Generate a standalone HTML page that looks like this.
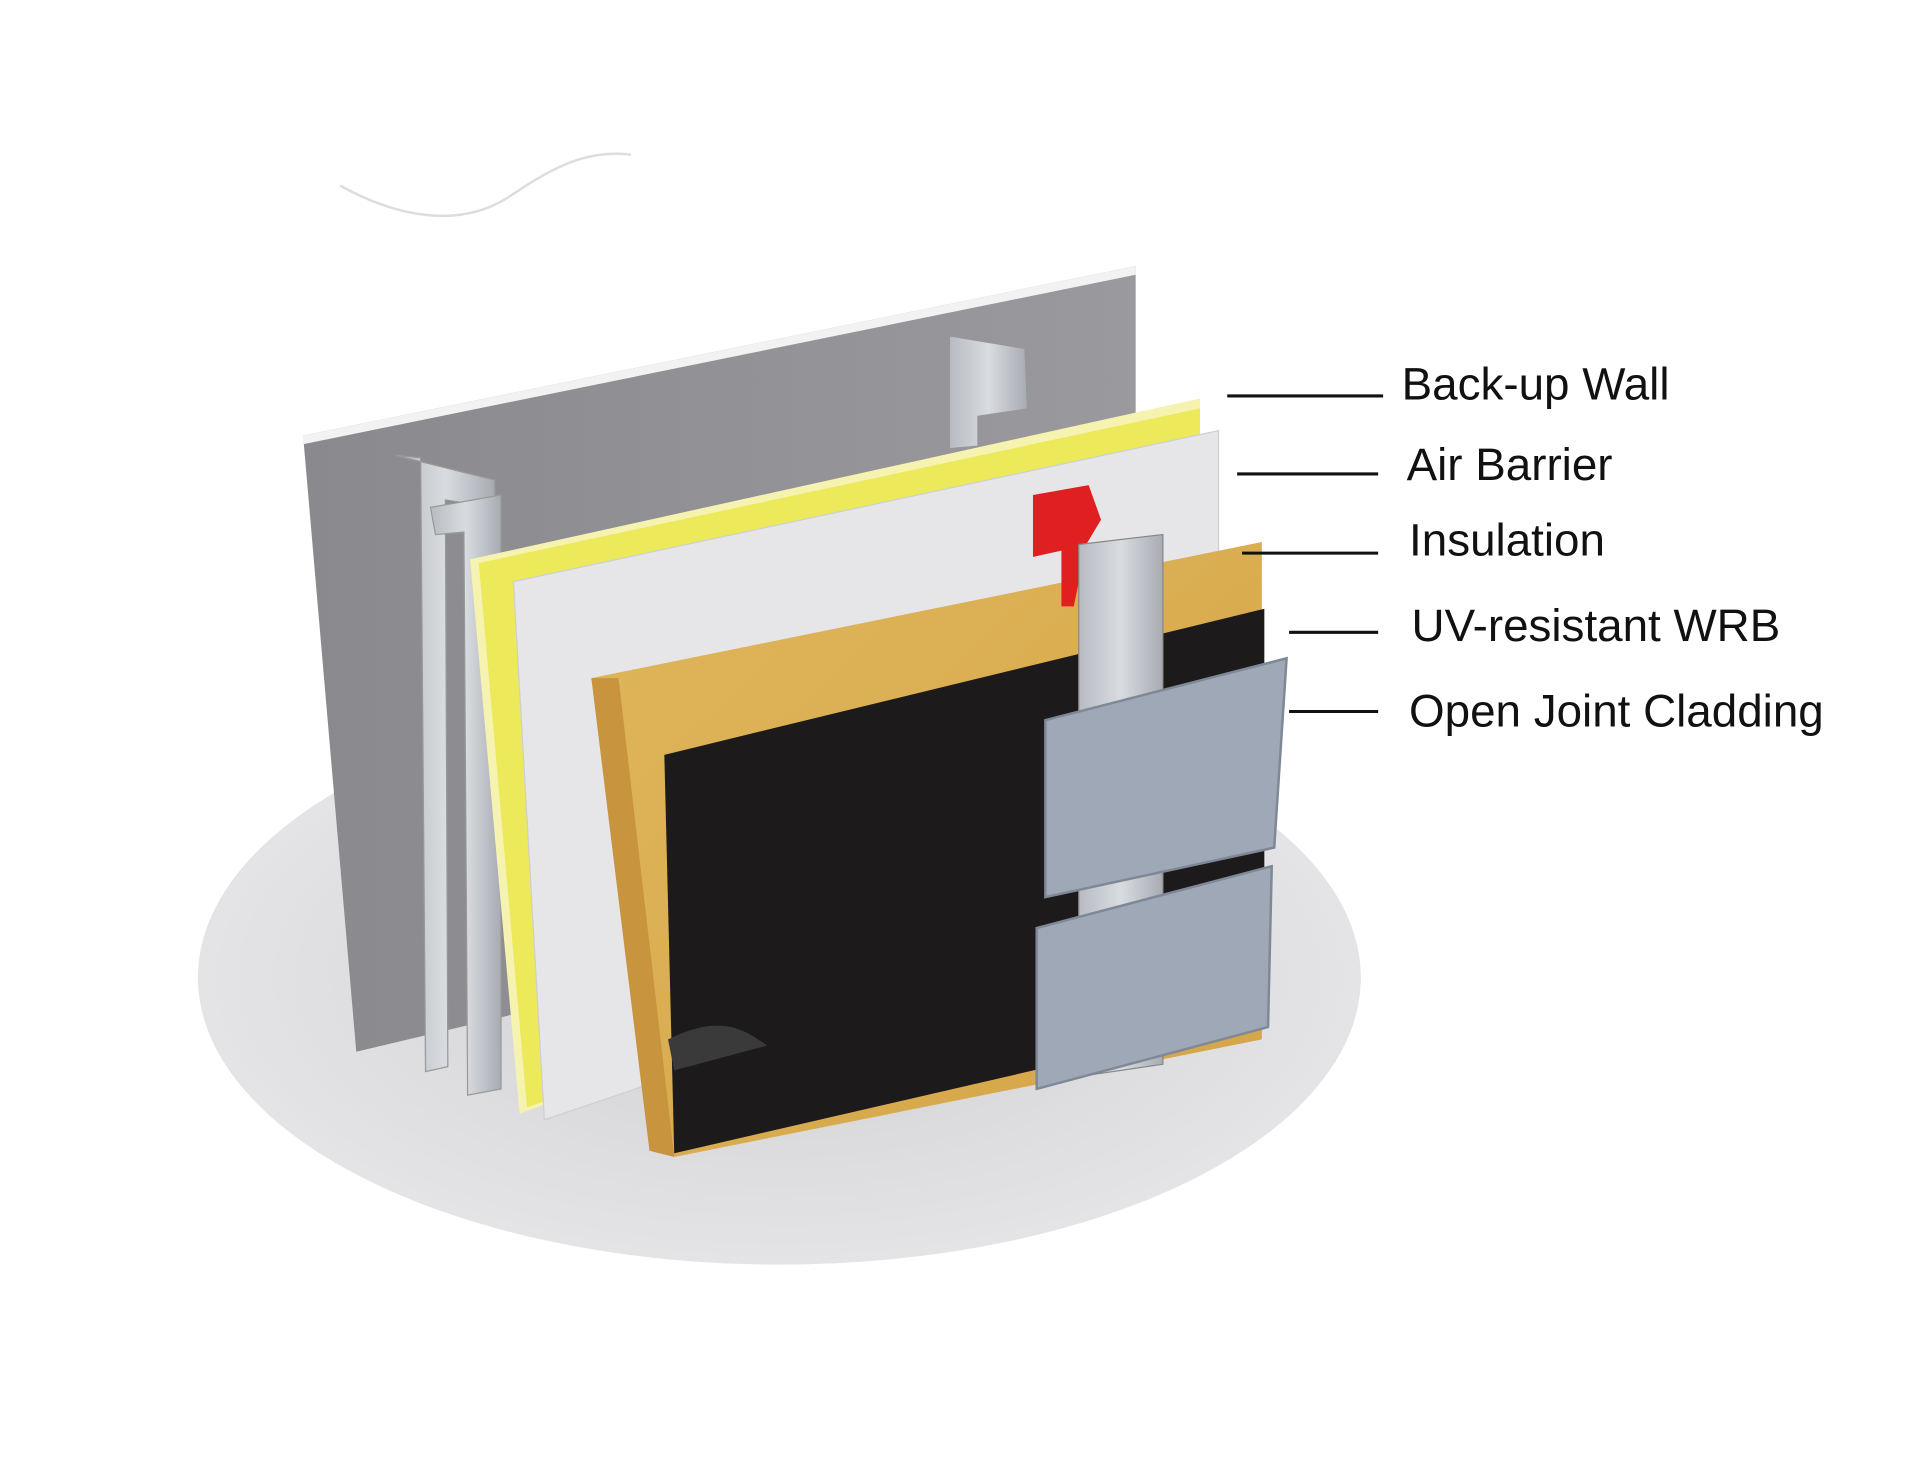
<!DOCTYPE html>
<html><head><meta charset="utf-8"><style>
html,body{margin:0;padding:0;background:#fff;}
svg{display:block;}
text{font-family:"Liberation Sans",sans-serif;font-size:37px;fill:#111;}
</style></head><body>
<svg width="1920" height="1475" viewBox="0 0 1552 1192" preserveAspectRatio="none" xmlns="http://www.w3.org/2000/svg">
<defs>
<radialGradient id="fl" cx="0.5" cy="0.5" r="0.5"><stop offset="0" stop-color="#d0d0d2"/><stop offset="1" stop-color="#e4e4e6"/></radialGradient>
<linearGradient id="wall" x1="0" y1="0" x2="1" y2="0"><stop offset="0" stop-color="#8a8a8e"/><stop offset="1" stop-color="#9a9a9e"/></linearGradient>
<linearGradient id="met" x1="0" y1="0" x2="1" y2="0"><stop offset="0" stop-color="#b8bcc2"/><stop offset="0.5" stop-color="#d8dce0"/><stop offset="1" stop-color="#a8acb2"/></linearGradient>
<linearGradient id="ins" x1="0" y1="0" x2="1" y2="1"><stop offset="0" stop-color="#e0b65a"/><stop offset="1" stop-color="#d4a448"/></linearGradient>
</defs>
<rect width="1552" height="1192" fill="#fff"/>
<path d="M275,150 C320,175 370,185 410,160 C440,140 470,120 510,125" fill="none" stroke="#ddd" stroke-width="2"/>
<ellipse cx="630" cy="790" rx="470" ry="232" fill="url(#fl)"/>
<!-- back-up wall -->
<polygon points="245,352 918,215 918,700 288,850" fill="url(#wall)"/>
<polygon points="245,352 918,215 918,222 245,359" fill="#f2f2f2"/>
<!-- back stud -->
<polygon points="768,272 828,282 830,330 790,336 790,360 768,362" fill="url(#met)"/>
<!-- left studs -->
<polygon points="320,368 400,388 400,410 360,404 362,862 344,866 340,370" fill="url(#met)" stroke="#999" stroke-width="1"/>
<polygon points="348,410 405,400 405,880 378,885 375,430 352,432" fill="url(#met)" stroke="#999" stroke-width="1"/>
<!-- yellow layer -->
<polygon points="380,452 970,322 970,700 420,900" fill="#f6f2b0"/>
<polygon points="387,455 970,330 970,700 426,895" fill="#ecea5a"/>
<!-- air barrier -->
<polygon points="415,470 985,348 985,720 440,905" fill="#e6e6e8" stroke="#cfcfd2" stroke-width="1"/>
<!-- insulation -->
<polygon points="478,548 1020,438 1020,840 545,935" fill="url(#ins)"/>
<polygon points="478,548 500,548 545,935 525,930" fill="#c8943e"/>
<!-- WRB -->
<polygon points="537,610 1022,492 1022,822 545,932" fill="#1c1a1a"/>
<path d="M540,840 C580,820 600,830 620,845 L545,865 Z" fill="#3a3a3a"/>
<!-- red clip -->
<polygon points="835,400 880,392 890,420 878,440 868,490 858,490 858,445 835,450" fill="#e02020"/>
<!-- rail -->
<polygon points="872,440 940,432 940,860 872,870" fill="url(#met)" stroke="#888" stroke-width="1"/>
<!-- cladding -->
<polygon points="845,582 1040,532 1030,685 845,725" fill="#9ea8b6" stroke="#7f8896" stroke-width="2"/>
<polygon points="838,750 1028,700 1025,830 838,880" fill="#9ea8b6" stroke="#7f8896" stroke-width="2"/>
<!-- leaders -->
<g stroke="#111" stroke-width="2.5">
<line x1="992" y1="320" x2="1118" y2="320"/>
<line x1="1000" y1="383" x2="1114" y2="383"/>
<line x1="1004" y1="447" x2="1114" y2="447"/>
<line x1="1042" y1="511" x2="1114" y2="511"/>
<line x1="1042" y1="575" x2="1114" y2="575"/>
</g>
<text x="1133" y="323">Back-up Wall</text>
<text x="1137" y="388">Air Barrier</text>
<text x="1139" y="449">Insulation</text>
<text x="1141" y="518">UV-resistant WRB</text>
<text x="1139" y="587">Open Joint Cladding</text>
</svg>
</body></html>
